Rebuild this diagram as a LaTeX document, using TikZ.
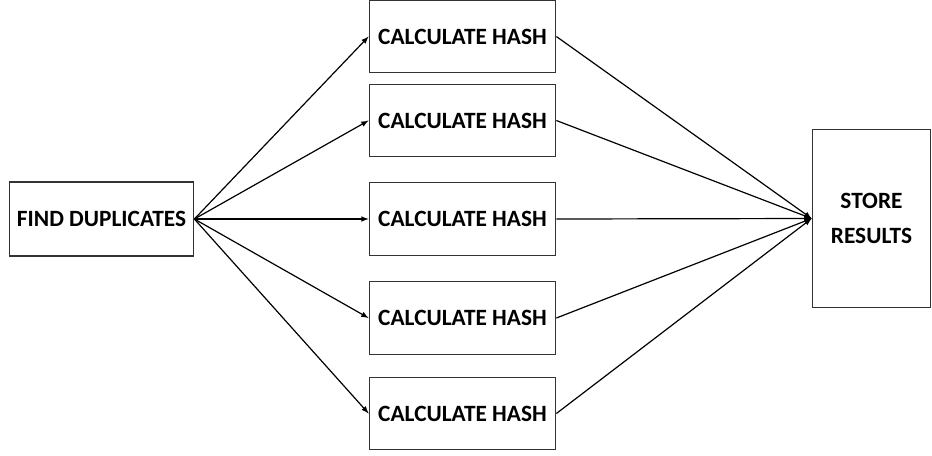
\documentclass[tikz,border=0pt]{standalone}
\usepackage{fontspec}
\setmainfont{Carlito}
\usepackage{tikz}

\begin{document}
\begin{tikzpicture}[x=0.75pt, y=-0.75pt,
		blk/.style={draw=black!80, line width=0.8pt, inner sep=0pt, align=center,
			font=\bfseries\fontsize{17.5}{26}\selectfont},
		hashblk/.style={blk, minimum width=140pt, minimum height=54.5pt},
		link/.style={-latex, line width=0.9pt}]
			%%%%% START %%%%%
			\useasboundingbox (0, 0) rectangle (932, 455);
			
			\node[blk, minimum width=138.5pt, minimum height=55.5pt] (find) at (101.5, 219) {FIND DUPLICATES};
			
			\node[hashblk] (hash1) at (462.5, 36.5) {CALCULATE HASH};
			\node[hashblk] (hash2) at (462.5, 120.5) {CALCULATE HASH};
			\node[hashblk] (hash3) at (462.5, 219) {CALCULATE HASH};
			\node[hashblk] (hash4) at (462.5, 318) {CALCULATE HASH};
			\node[hashblk] (hash5) at (462.5, 413.5) {CALCULATE HASH};
			
			\node[blk, minimum width=89pt, minimum height=134pt] (store) at (871.5, 218.5) {STORE\\RESULTS};
			
			\foreach \i in {1,...,5} {
				\draw[link] (find.east) -- (hash\i.west);
				\draw[link] (hash\i.east) -- (store.west);
			}
			%%%%% END %%%%%
\end{tikzpicture}
\end{document}
